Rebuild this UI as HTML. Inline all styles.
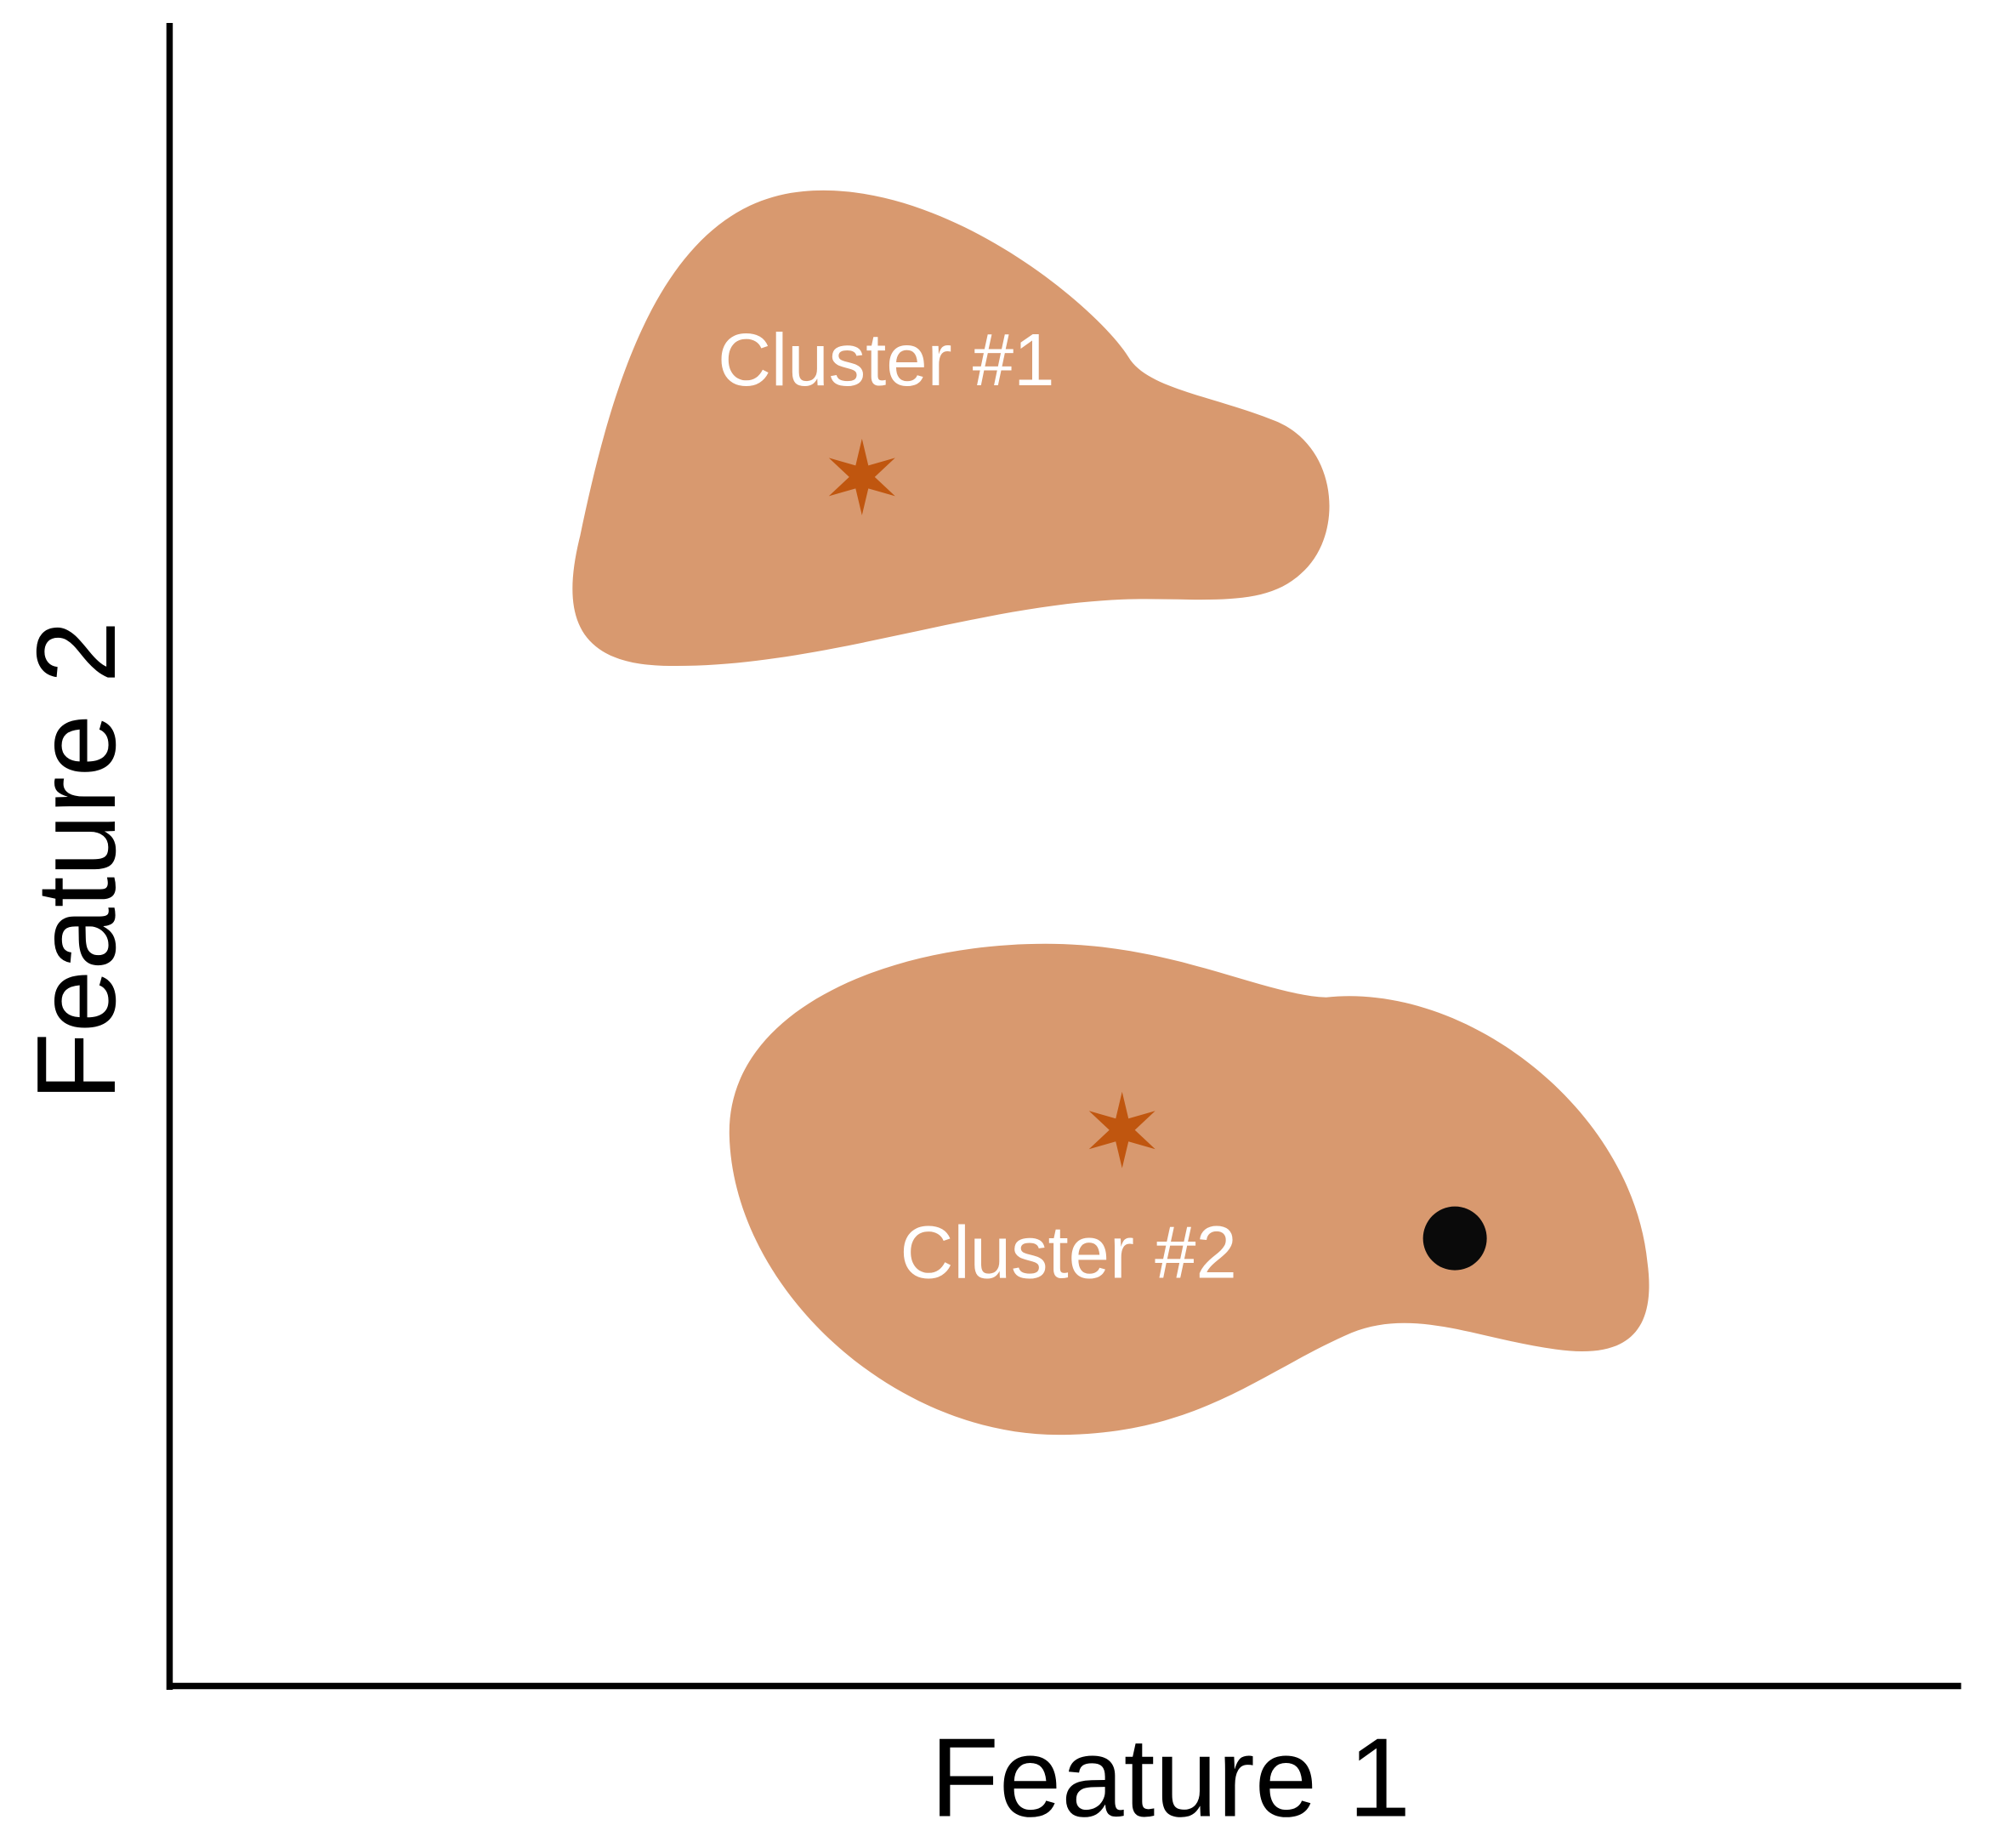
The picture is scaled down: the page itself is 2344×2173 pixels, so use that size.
<!DOCTYPE html>
<html><head><style>html,body{margin:0;padding:0;background:#fff}svg{display:block}</style></head>
<body>
<svg width="2344" height="2173" viewBox="0 0 1563 1449" preserveAspectRatio="none" xmlns="http://www.w3.org/2000/svg">
<defs>
<polygon id="st" points="0,-30 5,-9 26,-15 10,0 26,15 5,9 0,30 -5,9 -26,15 -10,0 -26,-15 -5,-9"/>
</defs>
<line x1="133" y1="18" x2="133" y2="1325" stroke="#000" stroke-width="5"/>
<line x1="131" y1="1322" x2="1538" y2="1322" stroke="#000" stroke-width="5"/>
<path fill="#d8996f" d="M455,420 C480,300 520,160 630,150 C740,140 860,240 885,280 C900,305 950,310 1000,330 C1050,350 1055,420 1020,450 C990,478 940,468 880,470 C760,475 640,525 520,522 C450,520 440,480 455,420 Z"/>
<path fill="#d8996f" d="M572,890 C570,790 700,740 820,740 C920,740 990,780 1040,782 C1150,770 1280,870 1292,990 C1300,1050 1270,1065 1220,1058 C1160,1050 1110,1025 1060,1045 C990,1075 940,1125 830,1125 C700,1125 575,1010 572,890 Z"/>
<use href="#st" x="676" y="374" fill="#c0560f"/>
<use href="#st" x="880" y="886" fill="#c0560f"/>
<circle cx="1141" cy="971" r="25" fill="#0a0a0a"/>
<text x="695" y="302" font-family="Liberation Sans, sans-serif" font-size="58" fill="#fff" text-anchor="middle">Cluster #1</text>
<text x="838" y="1002" font-family="Liberation Sans, sans-serif" font-size="58" fill="#fff" text-anchor="middle">Cluster #2</text>
<text x="918" y="1424" font-family="Liberation Sans, sans-serif" font-size="88" fill="#000" text-anchor="middle">Feature 1</text>
<text transform="translate(90,675) rotate(-90)" font-family="Liberation Sans, sans-serif" font-size="88" fill="#000" text-anchor="middle">Feature 2</text>
</svg>
</body></html>
